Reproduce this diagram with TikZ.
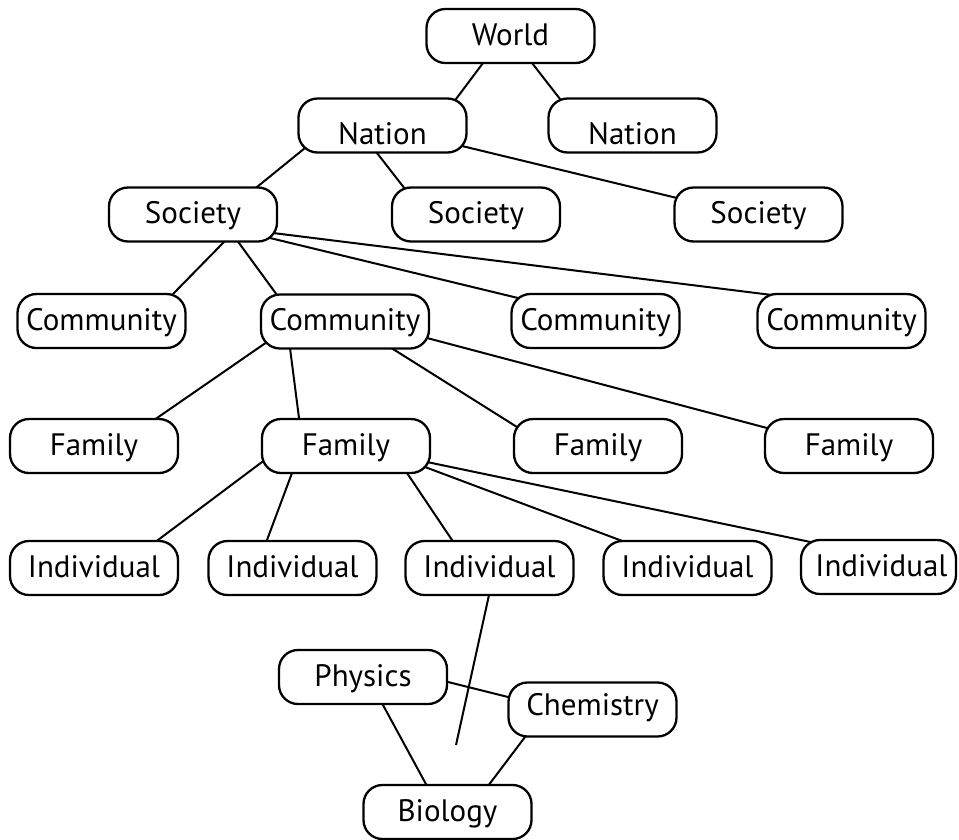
\documentclass[tikz,border=0pt]{standalone}
\usepackage{fontspec}
\setmainfont{PT Sans}
\usetikzlibrary{calc,backgrounds}
\begin{document}
\begin{tikzpicture}[x=1pt,y=-1pt,
  box/.style={draw, line width=2.3pt, rounded corners=19pt, fill=white,
    minimum width=168pt, minimum height=54pt, inner sep=0pt,
    text height=21pt, text depth=3pt, font=\fontsize{31}{37}\selectfont},
  link/.style={line width=2pt, shorten <=-6pt, shorten >=-6pt},
  freelink/.style={line width=2pt, shorten <=-6pt}]
\useasboundingbox (0,0) rectangle (959,839);
% nodes
\node[box] (world) at (510.5,36) {World};
\node[box] (nationA) at (382.5,125.5) {\raisebox{-10pt}{Nation}};
\node[box] (nationB) at (632.5,125.5) {\raisebox{-10pt}{Nation}};
\node[box] (socA) at (193,214.5) {Society};
\node[box] (socB) at (476,214.5) {Society};
\node[box] (socC) at (758.5,214.5) {Society};
\node[box] (comA) at (101.5,321) {Community};
\node[box] (comB) at (345,321.5) {Community};
\node[box] (comC) at (595.5,321) {Community};
\node[box] (comD) at (841.5,321) {Community};
\node[box] (famA) at (94,446) {Family};
\node[box] (famB) at (346,446) {Family};
\node[box] (famC) at (598,446) {Family};
\node[box] (famD) at (849,446) {Family};
\node[box] (indA) at (94,568) {Individual};
\node[box] (indB) at (292.5,568) {Individual};
\node[box] (indC) at (489.5,568) {Individual};
\node[box] (indD) at (687.5,568) {Individual};
\node[box, minimum width=155pt] (indE) at (878.5,567) {\hspace{6pt}Individual};
\node[box] (physics) at (363,677) {Physics};
\node[box] (chemistry) at (592.5,709.5) {\raisebox{3pt}{Chemistry}};
\node[box] (biology) at (447.5,812) {Biology};
\coordinate (loose) at (456,745);
% connectors
\begin{scope}[on background layer]
\draw[link] ($(world.center)+(-27.5,27)$) -- ($(nationA.center)+(73.5,-26.5)$);
\draw[link] ($(world.center)+(21.5,27)$) -- ($(nationB.center)+(-72.5,-26.5)$);
\draw[link] ($(nationA.center)+(-77.5,22.5)$) -- ($(socA.center)+(64,-27.5)$);
\draw[link] ($(nationA.center)+(-5.5,27.5)$) -- ($(socB.center)+(-71,-25.5)$);
\draw[link] ($(nationA.center)+(79.5,20.5)$) -- ($(socC.center)+(-81.5,-16.5)$);
\draw[link] ($(socA.center)+(30,28.5)$) -- ($(comA.center)+(70.5,-26)$);
\draw[link] ($(socA.center)+(46,28.5)$) -- ($(comB.center)+(-68,-26.5)$);
\draw[link] ($(socA.center)+(77,23.5)$) -- ($(comC.center)+(-77.5,-23)$);
\draw[link] ($(socA.center)+(80,18.5)$) -- ($(comD.center)+(-69.5,-26)$);
\draw[link] ($(comB.center)+(-78,20.5)$) -- ($(famA.center)+(63,-28)$);
\draw[link] ($(comB.center)+(-55,26.5)$) -- ($(famB.center)+(-47,-28)$);
\draw[link] ($(comB.center)+(48,27.5)$) -- ($(famC.center)+(-81,-19)$);
\draw[link] ($(comB.center)+(82,16.5)$) -- ($(famD.center)+(-82,-18)$);
\draw[link] ($(famB.center)+(-84,16)$) -- ($(indA.center)+(64,-28)$);
\draw[link] ($(famB.center)+(-54,27)$) -- ($(indB.center)+(-25.5,-28)$);
\draw[link] ($(famB.center)+(61,27)$) -- ($(indC.center)+(-37.5,-28)$);
\draw[link] ($(famB.center)+(79,21)$) -- ($(indD.center)+(-62.5,-26)$);
\draw[link] ($(famB.center)+(81,16)$) -- ($(indE.center)+(-68,-25)$);
\draw[freelink] ($(indC.center)+(-0.5,27)$) -- (loose);
\draw[link] ($(physics.center)+(85,5)$) -- ($(chemistry.center)+(-84.5,-12.5)$);
\draw[link] ($(physics.center)+(20,28)$) -- ($(biology.center)+(-20.5,-26)$);
\draw[link] ($(chemistry.center)+(-67.5,27.5)$) -- ($(biology.center)+(40.5,-26)$);
\end{scope}
\end{tikzpicture}
\end{document}
